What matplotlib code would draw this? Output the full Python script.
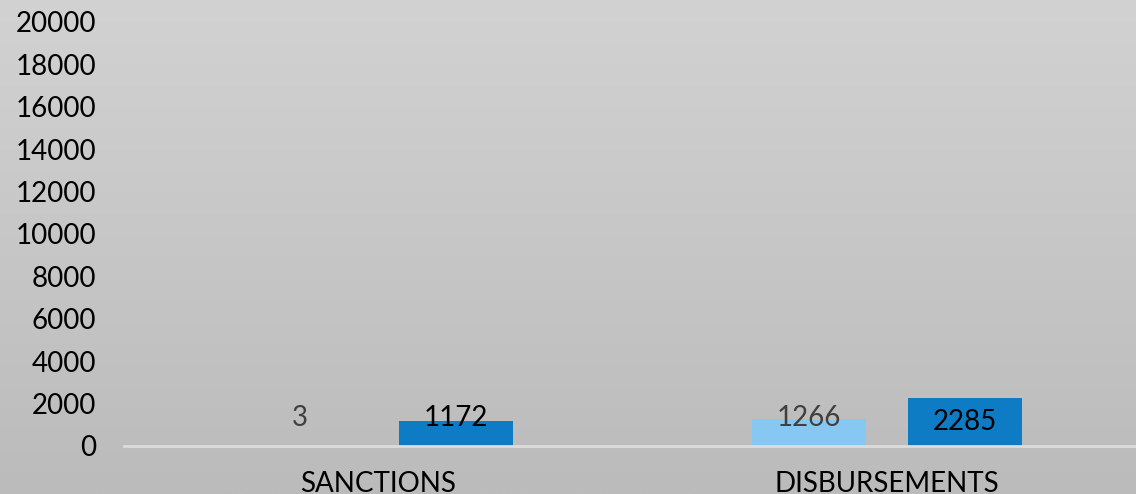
import numpy as np
import matplotlib.pyplot as plt

# data
categories = ["SANCTIONS", "DISBURSEMENTS"]
series_light = [3, 1266]
series_dark = [1172, 2285]
yticks = [0, 2000, 4000, 6000, 8000, 10000, 12000, 14000, 16000, 18000, 20000]

plt.rcParams['font.family'] = ['Lato', 'DejaVu Sans']

fig = plt.figure(figsize=(11.36, 4.94), dpi=100)

# grey gradient background
bg = fig.add_axes([0, 0, 1, 1])
grad = np.linspace(0, 1, 256).reshape(-1, 1)
bg.imshow(grad, aspect='auto', cmap=plt.matplotlib.colors.LinearSegmentedColormap.from_list(
    'bg', ['#d2d2d2', '#bbbbbb']), extent=[0, 1, 0, 1])
bg.axis('off')

ax = fig.add_axes([0.109, 0.0972, 0.891, 0.8583])
ax.patch.set_alpha(0)

x = np.arange(len(categories))
w = 0.224
off = 0.153
ax.bar(x - off, series_light, w, color='#86c8f2')
ax.bar(x + off, series_dark, w, color='#0e7cc4')

label_y = 1300
for xi, v in zip(x, series_light):
    ax.text(xi - off, label_y, str(v), ha='center', va='center', fontsize=20, color='#404040')
for xi, v in zip(x, series_dark):
    ax.text(xi + off, label_y - (150 if v > 2000 else 0), str(v), ha='center', va='center',
            fontsize=20, color='black')

ax.set_xlim(-0.499, 1.489)
ax.set_ylim(0, 20000)
ax.set_yticks(yticks)
ax.set_yticklabels([str(t) for t in yticks], fontsize=20)
ax.set_xticks(x)
ax.set_xticklabels(categories, fontsize=20)
ax.tick_params(length=0, pad=20, axis='y')
ax.tick_params(length=0, pad=18, axis='x')
for s in ['top', 'right', 'left']:
    ax.spines[s].set_visible(False)
ax.spines['bottom'].set_color('#dcdcdc')
ax.spines['bottom'].set_linewidth(2)

fig.savefig("out.png", dpi=100)
